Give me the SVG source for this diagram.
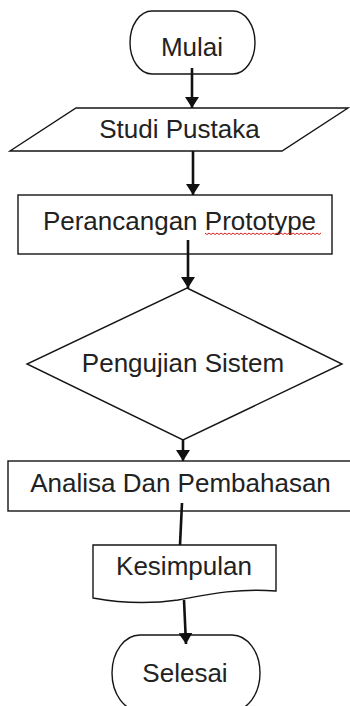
<svg xmlns="http://www.w3.org/2000/svg" width="350" height="706" viewBox="0 0 350 706">
<defs>
<style>
.shape{fill:#fff;stroke:#151515;stroke-width:1.4}
.lbl{font-family:"Liberation Sans",Arial,sans-serif;font-size:26px;fill:#222;text-anchor:middle}
.conn{stroke:#111;stroke-width:2.6;fill:none}
.spell{stroke:#d42020;stroke-width:1;fill:none}
</style>
<marker id="arr" markerUnits="userSpaceOnUse" markerWidth="12" markerHeight="14" refX="11" refY="7" orient="auto">
<path d="M0,0 L11,7 L0,14 Z" fill="#111"/>
</marker>
</defs>
<rect width="350" height="706" fill="#fff"/>
<g id="mulai">
<rect class="shape" x="130" y="11" width="125" height="63" rx="22" ry="31.5"/>
<text class="lbl" x="192" y="56">Mulai</text>
</g>
<g id="studi-pustaka">
<polygon class="shape" points="76,108 348,108 282,151 10,151"/>
<text class="lbl" x="179.5" y="138">Studi Pustaka</text>
</g>
<g id="perancangan-prototype">
<rect class="shape" x="18" y="195" width="314" height="59"/>
<text class="lbl" x="179.5" y="230">Perancangan Prototype</text>
<path class="spell" d="M205,233 l2,1.5 l2,-1.5 l2,1.5 l2,-1.5 l2,1.5 l2,-1.5 l2,1.5 l2,-1.5 l2,1.5 l2,-1.5 l2,1.5 l2,-1.5 l2,1.5 l2,-1.5 l2,1.5 l2,-1.5 l2,1.5 l2,-1.5 l2,1.5 l2,-1.5 l2,1.5 l2,-1.5 l2,1.5 l2,-1.5 l2,1.5 l2,-1.5 l2,1.5 l2,-1.5 l2,1.5 l2,-1.5 l2,1.5 l2,-1.5 l2,1.5 l2,-1.5 l2,1.5 l2,-1.5 l2,1.5 l2,-1.5 l2,1.5 l2,-1.5 l2,1.5 l2,-1.5 l2,1.5 l2,-1.5 l2,1.5 l2,-1.5 l2,1.5 l2,-1.5 l2,1.5 l2,-1.5 l2,1.5 l2,-1.5 l2,1.5 l2,-1.5 l2,1.5 l2,-1.5 l2,1.5 l2,-1.5"/>
</g>
<g id="pengujian-sistem">
<polygon class="shape" points="187,288 342,364 183,440 27,364"/>
<text class="lbl" x="183" y="372">Pengujian Sistem</text>
</g>
<g id="analisa-dan-pembahasan">
<rect class="shape" x="8" y="461" width="350" height="50"/>
<text class="lbl" x="180.5" y="492">Analisa Dan Pembahasan</text>
</g>
<g id="kesimpulan">
<path class="shape" d="M93,545 H276 V591 C235,588 205,595 178,600 C150,604 120,603 93,598 Z"/>
<text class="lbl" x="184" y="575">Kesimpulan</text>
</g>
<g id="selesai">
<rect class="shape" x="112" y="635" width="148" height="76" rx="28" ry="38"/>
<text class="lbl" x="185" y="682">Selesai</text>
</g>
<g id="connectors">
<path class="conn" d="M192,68 V108" marker-end="url(#arr)"/>
<path class="conn" d="M193,151 V195" marker-end="url(#arr)"/>
<path class="conn" d="M188,240 V288" marker-end="url(#arr)"/>
<path class="conn" d="M183,440 V461" marker-end="url(#arr)"/>
<path class="conn" d="M182,503 L180,545"/>
<path class="conn" d="M184,600 L186,644" marker-end="url(#arr)"/>
</g>
</svg>
